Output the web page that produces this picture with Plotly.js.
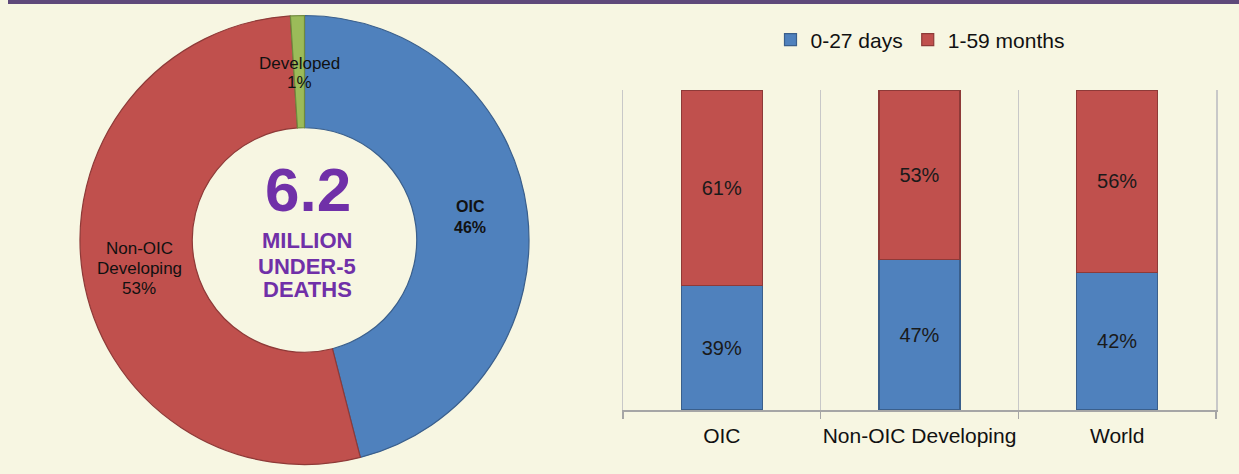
<!DOCTYPE html>
<html>
<head>
<meta charset="utf-8">
<script src="https://cdn.plot.ly/plotly-3.0.1.min.js"></script>
<style>
  html, body { margin: 0; padding: 0; background: #F7F6E2; }
  #chart { width: 1239px; height: 474px; }
</style>
</head>
<body>
<div id="chart"></div>
<script>
// Donut data
const pieLabels = ["OIC", "Non-OIC Developing", "Developed"];
const pieValues = [46, 53, 1];
const pieColors = ["#4F81BD", "#C0504D", "#9BBB59"];
const pieLineColors = ["#3A5F8C", "#8E3A38", "#6F8A3E"];

// Bar data (heights; labels as printed)
const barCategories = ["OIC", "Non-OIC Developing", "World"];
const neonatal = [39, 47, 43];       // 0-27 days
const postNeonatal = [61, 53, 57];   // 1-59 months
const neonatalLabels = ["39%", "47%", "42%"];
const postNeonatalLabels = ["61%", "53%", "56%"];
const seriesNames = ["0-27 days", "1-59 months"];

const W = 1239, H = 474;
const px = x => x / W;
const py = y => 1 - y / H;

const barTextFont = { size: 20, color: "#1a1a1a", family: "Liberation Sans, Arial, sans-serif" };

const traces = [
  {
    type: "pie",
    labels: pieLabels,
    values: pieValues,
    sort: false,
    direction: "clockwise",
    rotation: 0,
    hole: 0.5,
    textinfo: "none",
    showlegend: false,
    marker: { colors: pieColors, line: { color: pieLineColors, width: 1.2 } },
    domain: { x: [px(80), px(529)], y: [py(465), py(15)] }
  },
  {
    type: "bar",
    name: seriesNames[0],
    x: barCategories,
    y: neonatal,
    text: neonatalLabels,
    textposition: "inside",
    insidetextanchor: "middle",
    textfont: barTextFont,
    marker: { color: "#4F81BD", line: { color: "#3A5F8C", width: 1.2 } }
  },
  {
    type: "bar",
    name: seriesNames[1],
    x: barCategories,
    y: postNeonatal,
    text: postNeonatalLabels,
    textposition: "inside",
    insidetextanchor: "middle",
    textfont: barTextFont,
    marker: { color: "#C0504D", line: { color: "#8E3A38", width: 1.2 } }
  }
];

const purple = "#7030A8";
const annFont = (size, color) => ({
  family: "Liberation Sans, Arial, sans-serif", size: size, color: color || "#111"
});

const annotations = [
  { text: "<b>OIC</b>", x: px(470), y: py(206), font: annFont(16) },
  { text: "<b>46%</b>", x: px(470), y: py(227), font: annFont(16) },
  { text: "Non-OIC", x: px(139), y: py(248), font: annFont(17) },
  { text: "Developing", x: px(139), y: py(268), font: annFont(17) },
  { text: "53%", x: px(139), y: py(288), font: annFont(17) },
  { text: "Developed", x: px(299), y: py(63), font: annFont(17) },
  { text: "1%", x: px(299), y: py(82), font: annFont(17) },
  { text: "<b>6.2</b>", x: px(308), y: py(189), font: annFont(62, purple) },
  { text: "<b>MILLION</b>", x: px(307), y: py(240), font: annFont(22, purple) },
  { text: "<b>UNDER-5</b>", x: px(307), y: py(266), font: annFont(22, purple) },
  { text: "<b>DEATHS</b>", x: px(307), y: py(289), font: annFont(22, purple) }
].map(a => Object.assign({ xref: "paper", yref: "paper", showarrow: false, xanchor: "center", yanchor: "middle", align: "center" }, a));

const layout = {
  width: W, height: H,
  margin: { l: 0, r: 0, t: 0, b: 0 },
  paper_bgcolor: "#F7F6E2",
  plot_bgcolor: "rgba(0,0,0,0)",
  barmode: "stack",
  bargap: 0.59,
  font: { family: "Liberation Sans, Arial, sans-serif", color: "#111" },
  xaxis: {
    type: "category",
    domain: [px(623), px(1216)],
    range: [-0.5, 2.5],
    tickson: "boundaries",
    ticks: "outside",
    ticklen: 7,
    tickcolor: "#A6A6A6",
    tickwidth: 1.5,
    tickangle: 0,
    showgrid: true,
    gridcolor: "#C8C8C8",
    gridwidth: 1.5,
    showline: true,
    linecolor: "#A6A6A6",
    linewidth: 1.5,
    tickfont: { size: 21, color: "#111" },
    ticklabelstandoff: 6,
    fixedrange: true
  },
  yaxis: {
    domain: [py(410), py(90)],
    range: [0, 100],
    showticklabels: false,
    ticks: "",
    showgrid: false,
    zeroline: false,
    showline: true,
    mirror: true,
    linecolor: "#C8C8C8",
    linewidth: 1.5,
    fixedrange: true
  },
  legend: {
    orientation: "h",
    x: px(920), xanchor: "center",
    y: py(40), yanchor: "middle",
    font: { size: 21, color: "#111" },
    itemwidth: 30,
    bgcolor: "rgba(0,0,0,0)",
    traceorder: "normal"
  },
  shapes: [
    { type: "rect", xref: "paper", yref: "paper", x0: px(8), x1: 1, y0: py(4), y1: 1,
      fillcolor: "#5F497A", line: { width: 0 } }
  ],
  annotations: annotations
};

Plotly.newPlot("chart", traces, layout, { displayModeBar: false, staticPlot: true });
</script>
</body>
</html>
